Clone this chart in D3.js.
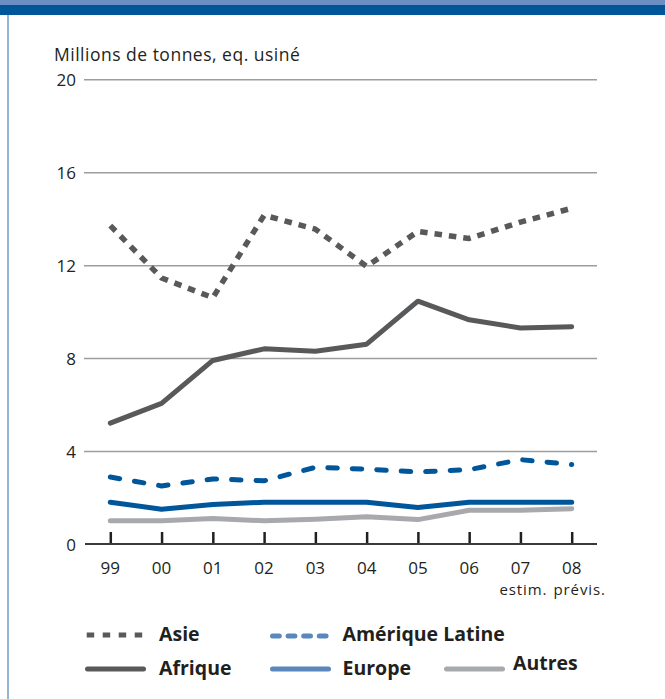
<!DOCTYPE html>
<html>
<head>
<meta charset="utf-8">
<script src="https://cdn.jsdelivr.net/npm/d3@7"></script>
<style>
  html, body { margin: 0; padding: 0; background: #fff; }
  svg { display: block; }
</style>
</head>
<body>
<svg id="chart" width="665" height="699"></svg>
<script>
// ---- data ----
const years = ["99", "00", "01", "02", "03", "04", "05", "06", "07", "08"];
const subLabels = ["", "", "", "", "", "", "", "", "estim.", "prévis."];
const yTicks = [0, 4, 8, 12, 16, 20];
const asie    = [13.7, 11.45, 10.6, 14.15, 13.55, 11.95, 13.45, 13.15, 13.85, 14.45];
const afrique = [5.2, 6.05, 7.9, 8.4, 8.3, 8.6, 10.45, 9.65, 9.3, 9.35];
const latine  = [2.88, 2.5, 2.8, 2.72, 3.3, 3.22, 3.1, 3.2, 3.63, 3.42];
const europe  = [1.8, 1.5, 1.7, 1.8, 1.8, 1.8, 1.57, 1.8, 1.8, 1.8];
const autres  = [1.0, 1.0, 1.1, 1.0, 1.07, 1.17, 1.05, 1.45, 1.45, 1.52];
const seriesNames = ["Asie", "Afrique", "Amérique Latine", "Europe", "Autres"];
const yTitle = "Millions de tonnes, eq. usiné";

// ---- styles ----
const cGrey = "#58595b", cBlue = "#00569b", cLight = "#a7a9ac", cLegBlue = "#5b87bd";
const subOffset = { "estim.": 3, "prévis.": 8 };
const svg = d3.select("#chart");

// frame
svg.append("rect").attr("x", 0).attr("y", 0).attr("width", 665).attr("height", 6).attr("fill", "#6b8fc2");
svg.append("rect").attr("x", 0).attr("y", 5).attr("width", 665).attr("height", 10).attr("fill", "#005698");
svg.append("line").attr("x1", 8).attr("x2", 8).attr("y1", 15).attr("y2", 699)
  .attr("stroke", "#6e9cc4").attr("stroke-width", 1.5);

const x = d3.scalePoint().domain(years).range([110.3, 571.7]);
const y = d3.scaleLinear().domain([0, 20]).range([544, 79.3]);

const font = "'Open Sans', sans-serif";

// y title
svg.append("text").attr("x", 54).attr("y", 60.5).text(yTitle)
  .attr("font-family", font).attr("font-size", 17.5).attr("fill", "#231f20")
  .attr("letter-spacing", 0.5);

// grid lines
const gAxisY = svg.append("g").attr("transform", "translate(84,0)")
  .call(d3.axisLeft(y).tickValues(yTicks).tickSize(-513).tickPadding(8).tickFormat(d3.format("d")));
gAxisY.select(".domain").remove();
gAxisY.selectAll(".tick line").attr("stroke", "#9d9d9d").attr("stroke-width", 1.5)
  .filter(d => d === 0).remove();
gAxisY.selectAll(".tick text").attr("font-family", font).attr("font-size", 17)
  .attr("fill", "#231f20").attr("dy", "0.36em");

// x axis
const gAxisX = svg.append("g").attr("transform", `translate(0,${y(0)})`)
  .call(d3.axisTop(x).tickSize(12).tickFormat(""));
gAxisX.select(".domain").remove();
gAxisX.selectAll(".tick line").attr("stroke", "#231f20").attr("stroke-width", 2.5);
svg.append("line").attr("x1", 85).attr("x2", 597).attr("y1", y(0)).attr("y2", y(0))
  .attr("stroke", "#3a3a3a").attr("stroke-width", 2);

svg.append("g").selectAll("text").data(years).join("text")
  .attr("x", d => x(d)).attr("y", 573.5).attr("text-anchor", "middle")
  .attr("font-family", font).attr("font-size", 17).attr("fill", "#231f20").text(d => d);
svg.append("g").selectAll("text").data(years.map((d, i) => [d, subLabels[i]]).filter(d => d[1]))
  .join("text")
  .attr("x", d => x(d[0]) + subOffset[d[1]]).attr("y", 595).attr("text-anchor", "middle")
  .attr("font-family", font).attr("font-size", 15).attr("fill", "#231f20")
  .attr("letter-spacing", 0.9).text(d => d[1]);

// lines
const line = d3.line().x((d, i) => x(years[i])).y(d => y(d));
const series = [
  { v: autres, color: cLight, dash: null, cap: "round", w: 5 },
  { v: europe, color: cBlue, dash: null, cap: "round", w: 5 },
  { v: latine, color: cBlue, dash: "9.5,15", cap: "round", w: 5 },
  { v: afrique, color: cGrey, dash: null, cap: "round", w: 5 },
  { v: asie, color: cGrey, dash: "7.5,7", cap: "butt", w: 5.5 }
];
svg.append("g").selectAll("path").data(series).join("path")
  .attr("d", d => line(d.v)).attr("fill", "none")
  .attr("stroke", d => d.color).attr("stroke-width", d => d.w)
  .attr("stroke-dasharray", d => d.dash).attr("stroke-linecap", d => d.cap)
  .attr("stroke-linejoin", "round");

// legend
const legend = [
  { name: seriesNames[0], x: 86.7, y: 635, color: cGrey, dash: "7.5,8.5", cap: "butt", tx: 159, ty: 641 },
  { name: seriesNames[1], x: 85, y: 669, color: cGrey, dash: null, cap: "round", tx: 159, ty: 675 },
  { name: seriesNames[2], x: 270, y: 636, color: cLegBlue, dash: "6.8,8.8", cap: "round", tx: 342.5, ty: 641 },
  { name: seriesNames[3], x: 270, y: 669, color: cLegBlue, dash: null, cap: "round", tx: 342.5, ty: 675 },
  { name: seriesNames[4], x: 444, y: 669, color: cLight, dash: null, cap: "round", tx: 513, ty: 669.5 }
];
const lg = svg.append("g").selectAll("g").data(legend).join("g");
lg.append("line")
  .attr("x1", d => d.x).attr("x2", d => d.x + (d.dash ? 57 : 56))
  .attr("y1", d => d.y).attr("y2", d => d.y)
  .attr("stroke", d => d.color).attr("stroke-width", 5)
  .attr("stroke-dasharray", d => d.dash).attr("stroke-linecap", d => d.cap)
  .attr("transform", d => d.cap === "round" ? "translate(2.5,0)" : null);
lg.append("text").attr("x", d => d.tx).attr("y", d => d.ty).text(d => d.name)
  .attr("font-family", font).attr("font-weight", 700).attr("font-size", 19.5)
  .attr("fill", "#231f20");
</script>
</body>
</html>
